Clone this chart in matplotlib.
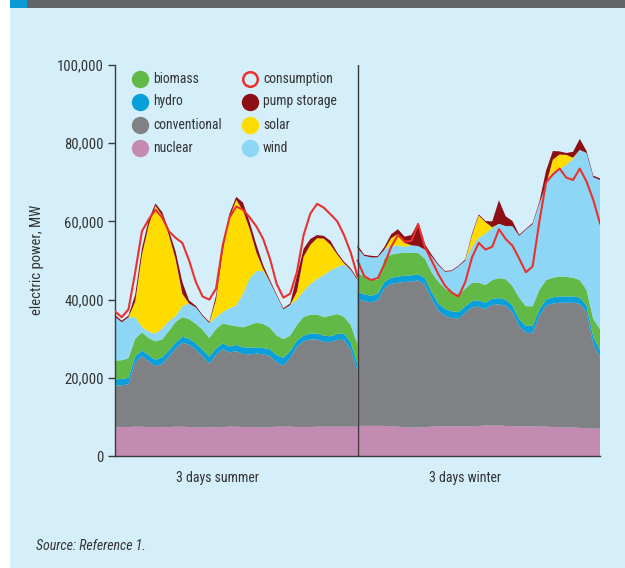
import numpy as np
import matplotlib
matplotlib.use("Agg")
import matplotlib.pyplot as plt
from matplotlib import font_manager
from matplotlib.lines import Line2D
from matplotlib.patches import Rectangle

# ---------------- data (values in thousands of MW) ----------------
hours_summer = np.arange(0, 73, 2)
hours_winter = np.arange(72, 145, 2)

nuclear_s = [7.3, 7.4, 7.4, 7.5, 7.5, 7.4, 7.4, 7.3, 7.4, 7.5, 7.5, 7.4, 7.4, 7.3, 7.3, 7.4, 7.4, 7.5, 7.5,
             7.4, 7.4, 7.4, 7.3, 7.4, 7.5, 7.5, 7.5, 7.4, 7.4, 7.4, 7.5, 7.5, 7.5, 7.5, 7.5, 7.5, 7.5]
conventional_s = [10.7, 10.7, 10.9, 16.5, 18.0, 16.8, 15.6, 16.2, 18.0, 19.9, 21.5, 21.1, 19.8, 18.2, 16.3,
                  18.5, 19.9, 19.0, 19.3, 18.7, 18.6, 18.8, 18.7, 18.2, 16.4, 15.6, 17.5, 20.5, 21.9, 22.4,
                  22.3, 21.7, 21.6, 22.2, 22.2, 19.7, 14.2]
hydro_s = [1.6, 1.6, 1.7, 1.5, 1.5, 1.6, 1.6, 1.7, 1.6, 1.6, 1.5, 1.5, 1.6, 1.7, 1.8, 1.6, 1.5, 1.5, 1.6,
           1.7, 1.7, 1.6, 1.6, 1.7, 1.9, 2.0, 1.8, 1.6, 1.5, 1.5, 1.5, 1.6, 1.5, 1.5, 1.6, 1.8, 1.8]
biomass_s = [4.8, 4.8, 5.0, 4.5, 4.6, 4.4, 4.7, 4.6, 5.0, 5.3, 5.0, 5.0, 5.0, 5.1, 4.8, 5.0, 5.1, 5.5, 4.8,
             5.1, 5.8, 6.3, 6.2, 5.5, 5.0, 4.8, 4.0, 4.0, 4.8, 4.8, 4.9, 4.7, 5.3, 5.1, 4.3, 4.5, 5.0]
wind_s = [11.2, 9.7, 10.5, 5.5, 1.4, 1.6, 2.0, 2.8, 2.5, 1.5, 2.8, 4.0, 4.2, 3.5, 3.8, 3.0, 2.9, 4.3, 5.3,
          8.6, 12.0, 13.2, 13.5, 11.7, 10.2, 7.6, 7.8, 6.5, 6.6, 7.9, 9.1, 10.8, 11.6, 12.0, 13.4, 14.1, 16.5]
solar_s = [0, 0, 0, 4.0, 18.5, 27.2, 32.7, 28.9, 22.0, 14.5, 3.2, 0, 0, 0, 0, 4.5, 15.7, 23.2, 27.0,
           21.3, 12.5, 4.7, 0.5, 0, 0, 0, 0, 2.0, 8.8, 10.0, 10.4, 9.3, 6.5, 3.2, 0.3, 0, 0]
pump_s = [0.5, 0.4, 0.4, 1.7, 1.6, 1.4, 0.6, 0.9, 1.2, 2.0, 3.0, 0.8, 0.4, 0.3, 0.3, 1.0, 1.5, 1.0, 0.8,
          2.0, 1.8, 2.0, 1.0, 0.5, 0.3, 0.3, 0.4, 4.0, 2.0, 1.5, 0.8, 0.7, 1.0, 0.5, 0.4, 0.4, 0.3]
consumption_s = [37.0, 35.5, 37.5, 47.0, 57.5, 60.5, 63.0, 61.0, 57.5, 55.8, 54.5, 50.0, 44.5, 40.8, 40.0,
                 42.8, 54.0, 61.0, 63.8, 63.0, 61.0, 58.7, 55.5, 50.5, 44.0, 40.5, 41.5, 47.0, 56.5, 62.0,
                 64.5, 63.5, 61.8, 60.0, 56.5, 52.0, 46.0]

nuclear_w = [7.7, 7.7, 7.7, 7.7, 7.7, 7.6, 7.5, 7.4, 7.3, 7.3, 7.4, 7.5, 7.6, 7.6, 7.6, 7.6, 7.6, 7.6, 7.7,
             7.8, 7.8, 7.8, 7.7, 7.6, 7.6, 7.6, 7.6, 7.5, 7.5, 7.4, 7.4, 7.3, 7.3, 7.2, 7.1, 7.0, 7.0]
conventional_w = [32.5, 31.9, 31.6, 32.1, 35.2, 36.4, 36.8, 37.1, 37.3, 37.6, 36.4, 32.7, 29.6, 28.2, 27.7,
                  27.5, 29.0, 30.4, 30.5, 29.8, 30.8, 31.0, 30.7, 29.2, 25.6, 23.9, 23.9, 28.3, 30.9, 31.6,
                  31.8, 31.9, 31.9, 31.7, 29.7, 21.7, 18.2]
hydro_w = [1.8, 1.7, 1.7, 1.7, 1.6, 1.6, 1.6, 1.6, 1.6, 1.6, 1.7, 1.8, 1.8, 1.8, 1.7, 1.7, 1.7, 1.6, 1.6,
           1.6, 1.6, 1.6, 1.6, 1.7, 1.8, 1.8, 1.8, 1.7, 1.6, 1.6, 1.6, 1.6, 1.6, 1.6, 1.7, 1.8, 1.8]
biomass_w = [4.8, 4.7, 4.2, 3.5, 6.0, 5.9, 5.9, 5.9, 5.8, 5.4, 5.0, 5.0, 5.6, 5.2, 4.8, 4.5, 4.5, 4.7, 4.5,
             4.5, 4.8, 5.1, 5.2, 5.0, 5.5, 5.0, 5.0, 5.0, 5.0, 5.0, 5.1, 5.0, 4.8, 4.5, 4.0, 4.5, 5.5]
wind_w = [6.4, 5.2, 5.6, 5.8, 2.3, 2.4, 2.0, 1.5, 1.9, 1.8, 2.3, 4.0, 4.2, 4.3, 5.5, 7.2, 7.2, 9.2, 11.5,
          13.2, 13.3, 13.9, 13.6, 15.3, 15.8, 19.6, 21.0, 22.0, 24.5, 27.2, 27.4, 28.7, 30.4, 33.3, 35.0,
          36.3, 38.1]
solar_w = [0, 0, 0, 0, 0, 1.8, 3.0, 1.0, 0, 0, 0, 0, 0, 0, 0, 0, 0, 3.0, 5.7, 2.9, 0.2, 0, 0, 0, 0, 0,
           0, 0, 0, 3.0, 3.8, 2.5, 0.3, 0, 0, 0, 0]
pump_w = [0.7, 0.3, 0.4, 0.3, 0.7, 1.0, 1.2, 1.6, 2.6, 6.0, 1.4, 0.5, 0.3, 0.2, 0.2, 0.2, 0.3, 0.4, 0.3,
          0.3, 1.5, 6.0, 2.5, 1.3, 0.3, 0.2, 0.3, 0.5, 3.5, 2.2, 0.8, 0.5, 1.5, 2.8, 0.5, 0.4, 0.4]
consumption_w = [50.0, 46.0, 45.0, 45.5, 49.0, 53.5, 56.5, 54.8, 55.0, 59.3, 53.5, 50.0, 46.5, 43.5, 41.8,
                 40.8, 44.5, 50.8, 54.5, 52.8, 53.5, 58.0, 55.5, 53.8, 50.5, 47.0, 48.5, 60.0, 70.0, 72.0,
                 73.5, 71.2, 70.6, 73.5, 70.2, 65.5, 59.5]

period_labels = ["3 days summer", "3 days winter"]
y_ticks = [0, 20000, 40000, 60000, 80000, 100000]

# ---------------- styling ----------------
C_BIOMASS = "#62b946"
C_HYDRO = "#0a9fd8"
C_CONV = "#808184"
C_NUCLEAR = "#c38bb1"
C_CONS = "#e8322f"
C_PUMP = "#8c0f15"
C_SOLAR = "#ffdc00"
C_WIND = "#8dd6f5"
BG = "#d4eefa"
TXT = "#333333"

available = {f.name for f in font_manager.fontManager.ttflist}
family = "DejaVu Sans"
for cand in ["Liberation Sans Narrow", "Roboto Condensed", "Roboto", "Liberation Sans"]:
    if cand in available:
        family = cand
        break
plt.rcParams["font.family"] = [family, "DejaVu Sans"]

W, H = 625, 568
fig = plt.figure(figsize=(W / 100, H / 100), dpi=100, facecolor="white")

# background panels
fig.patches.append(Rectangle((10 / W, 0), 1 - 10 / W, 1 - 7 / H, transform=fig.transFigure,
                             facecolor=BG, edgecolor="none", zorder=-10))
fig.patches.append(Rectangle((27 / W, 1 - 8 / H), 1, 8 / H, transform=fig.transFigure,
                             facecolor="#636466", edgecolor="none", zorder=-9))
fig.patches.append(Rectangle((10 / W, 1 - 8 / H), 17 / W, 8 / H, transform=fig.transFigure,
                             facecolor="#0a9ad6", edgecolor="none", zorder=-9))

ax = fig.add_axes([115 / W, (H - 456) / H, 485 / W, 391 / H])
ax.set_facecolor("none")

colors = [C_NUCLEAR, C_CONV, C_HYDRO, C_BIOMASS, C_WIND, C_SOLAR, C_PUMP]
k = 1000.0
for hrs, layers, cons in [
    (hours_summer, [nuclear_s, conventional_s, hydro_s, biomass_s, wind_s, solar_s, pump_s], consumption_s),
    (hours_winter, [nuclear_w, conventional_w, hydro_w, biomass_w, wind_w, solar_w, pump_w], consumption_w),
]:
    ax.stackplot(hrs, *[np.array(l) * k for l in layers], colors=colors, linewidth=0)
    ax.plot(hrs, np.array(cons) * k, color=C_CONS, lw=1.5, zorder=5, solid_joinstyle="round")

ax.axvline(72, ymin=0, ymax=1, color="#3a3a3a", lw=1.0, zorder=6)

ax.set_xlim(0, 144)
ax.set_ylim(0, 100000)
ax.set_yticks(y_ticks)
ax.set_yticklabels([f"{v:,}" for v in y_ticks])
ax.set_xticks([])
for s in ["top", "right"]:
    ax.spines[s].set_visible(False)
for s in ["left", "bottom"]:
    ax.spines[s].set_color("#3a3a3a")
    ax.spines[s].set_linewidth(1.0)
ax.tick_params(axis="y", length=5, width=1, color="#3a3a3a", labelsize=10.5, labelcolor=TXT, pad=3)

# period labels
ax.text(30.5, -5600, period_labels[0], ha="center", va="center", fontsize=10, color=TXT)
ax.text(104, -5600, period_labels[1], ha="center", va="center", fontsize=10, color=TXT)

fig.text(37 / W, 1 - 260 / H, "electric power, MW", rotation=90, ha="center", va="center",
         fontsize=10.5, color=TXT)
fig.text(36 / W, 1 - 546 / H, "Source: Reference 1.", ha="left", va="center", fontsize=10,
         style="italic", color=TXT)

# legend (manual, two columns)
legend_items = [
    ("biomass", C_BIOMASS, True), ("hydro", C_HYDRO, True),
    ("conventional", C_CONV, True), ("nuclear", C_NUCLEAR, True),
    ("consumption", C_CONS, False), ("pump storage", C_PUMP, True),
    ("solar", C_SOLAR, True), ("wind", C_WIND, True),
]
rows_y = [78.5, 101.5, 124.5, 147.5]
cols_x = [140, 250]
for i, (name, col, filled) in enumerate(legend_items):
    cx = cols_x[i // 4]
    cy = rows_y[i % 4]
    if filled:
        m = Line2D([cx / W], [1 - cy / H], marker="o", markersize=11.5, markerfacecolor=col,
                   markeredgecolor=col, linestyle="none", transform=fig.transFigure)
    else:
        m = Line2D([cx / W], [1 - cy / H], marker="o", markersize=10.5, markerfacecolor="none",
                   markeredgecolor=col, markeredgewidth=1.8, linestyle="none", transform=fig.transFigure)
    fig.lines.append(m)
    fig.text((cx + 13) / W, 1 - cy / H, name, ha="left", va="center", fontsize=9.8, color=TXT)

fig.savefig("out.png", dpi=100, facecolor="white")
